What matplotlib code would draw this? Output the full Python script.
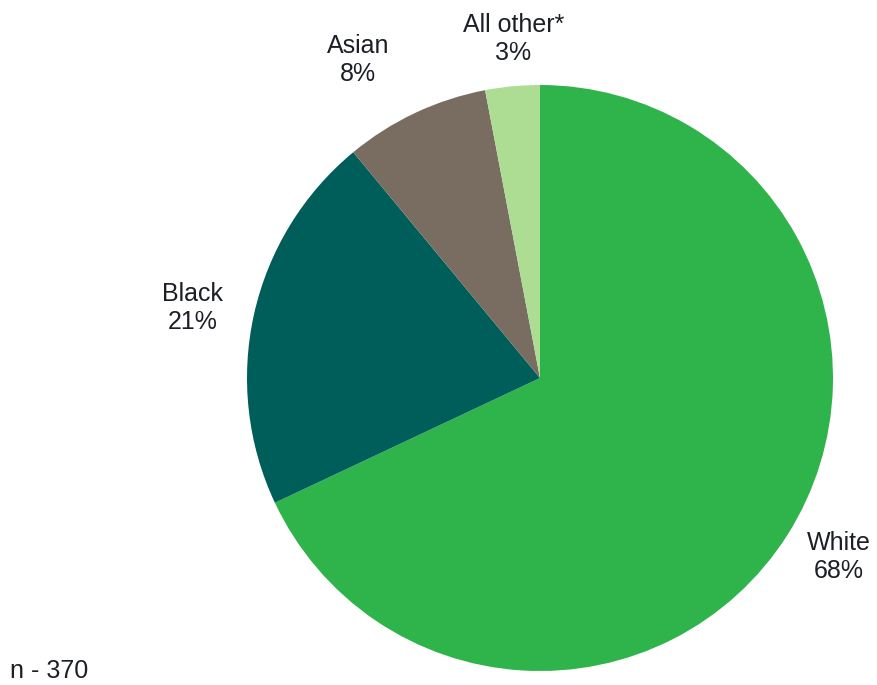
import numpy as np
import matplotlib.pyplot as plt

plt.rcParams['font.family'] = ['Liberation Sans', 'DejaVu Sans']

labels = ['White', 'Black', 'Asian', 'All other*']
shares = [68, 21, 8, 3]
colors = ['#2fb34b', '#005e5a', '#796d62', '#addc93']
# how far out each label sits, in pie radii
label_dist = [1.19, 1.21, 1.25, 1.16]
label_nudge = [1.5, 1.2, 4.6, -0.9]  # degrees
sample_note = 'n - 370'
text_color = '#1c1f26'

fig = plt.figure(figsize=(8.77, 6.85), dpi=100)
W, H = 877, 685
cx, cy, r = 540, 378, 293
ax = fig.add_axes([(cx - r) / W, (H - cy - r) / H, 2 * r / W, 2 * r / H])

wedges, _ = ax.pie(shares, colors=colors, startangle=90, counterclock=False,
                   radius=1, wedgeprops=dict(linewidth=0))
ax.set_xlim(-1, 1)
ax.set_ylim(-1, 1)
ax.set_aspect('equal')
ax.axis('off')

for w, lab, val, d, nud in zip(wedges, labels, shares, label_dist, label_nudge):
    mid = np.deg2rad((w.theta1 + w.theta2) / 2 + nud)
    ax.text(d * np.cos(mid), d * np.sin(mid), f'{lab}\n{val}%',
            ha='center', va='center', fontsize=18, color=text_color,
            linespacing=1.2, clip_on=False)

fig.text(10 / W, 1 - 671 / H, sample_note, ha='left', va='center',
         fontsize=18, color=text_color)

fig.savefig('out.png', dpi=100)
